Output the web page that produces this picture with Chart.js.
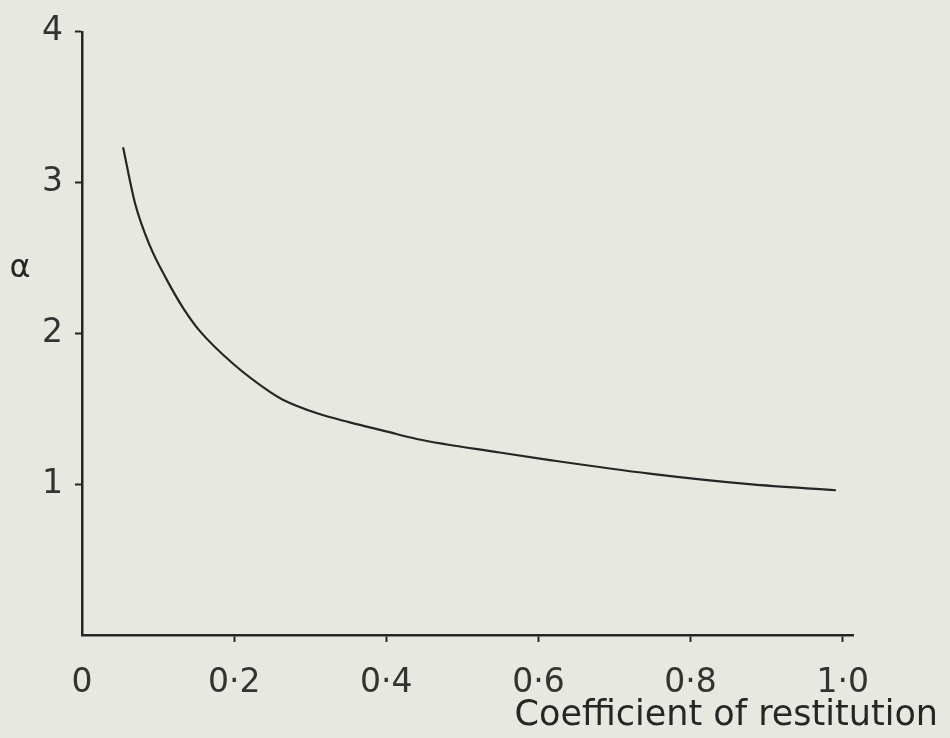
<!DOCTYPE html>
<html>
<head>
<meta charset="utf-8">
<script src="https://cdn.jsdelivr.net/npm/chart.js@4/dist/chart.umd.min.js"></script>
<style>
    body { margin: 0; background: #e7e9e0; }
    #grafica { display: block; }
</style>
</head>
<body>
<canvas id="grafica" width="950" height="738"></canvas>
<script>
// values
const restitution = [0.054, 0.0696, 0.0893, 0.111, 0.133, 0.155, 0.199, 0.247, 0.264, 0.309, 0.352, 0.40, 0.44, 0.549, 0.615, 0.746, 0.877, 0.991];
const alpha = [3.235, 2.865, 2.58, 2.36, 2.168, 2.015, 1.797, 1.612, 1.56, 1.47, 1.41, 1.35, 1.30, 1.21, 1.16, 1.07, 1.0, 0.96];

const xTicks = [0, 0.2, 0.4, 0.6, 0.8, 1.0];
const yTicks = [1, 2, 3, 4];

const xTitle = 'Coefficient of restitution';
const yTitle = 'α';

let puntos = [];
for (let i = 0; i < restitution.length; i++) {
    puntos.push({ x: restitution[i], y: alpha[i] });
}

const ink = '#262626';
const tickFont = { family: 'DejaVu Sans', size: 33 };

// paper background + axis titles
const fondo = {
    id: 'fondo',
    beforeDraw(chart) {
        const ctx = chart.ctx;
        ctx.save();
        ctx.fillStyle = '#e7e9e0';
        ctx.fillRect(0, 0, chart.width, chart.height);
        ctx.restore();
    },
    afterDraw(chart) {
        const ctx = chart.ctx;
        const y = chart.scales.y;
        ctx.save();
        ctx.fillStyle = ink;
        ctx.textBaseline = 'middle';
        ctx.font = '32px "DejaVu Sans"';
        ctx.textAlign = 'center';
        ctx.fillText(yTitle, 20, y.getPixelForValue(2.43));
        ctx.font = '35px "DejaVu Sans"';
        ctx.textAlign = 'right';
        ctx.fillText(xTitle, 938, 716);
        ctx.restore();
    }
};

const ctx = document.getElementById('grafica').getContext('2d');
const myChart = new Chart(ctx, {
    type: 'scatter',
    data: {
        datasets: [{
            label: 'alpha',
            data: puntos,
            showLine: true,
            borderColor: ink,
            borderWidth: 2.2,
            pointRadius: 0,
            cubicInterpolationMode: 'monotone',
            fill: false
        }]
    },
    options: {
        responsive: false,
        animation: false,
        layout: { padding: { left: 0, top: 23, right: 97, bottom: 0 } },
        plugins: {
            legend: { display: false },
            tooltip: { enabled: false }
        },
        scales: {
            x: {
                type: 'linear',
                min: 0,
                max: 1.0135,
                afterFit: function(scale) { scale.height = 103; },
                afterBuildTicks: function(scale) {
                    scale.ticks = xTicks.map(v => ({ value: v }));
                },
                border: { display: true, color: ink, width: 2.5 },
                grid: {
                    drawOnChartArea: false,
                    drawTicks: true,
                    tickLength: 7,
                    tickWidth: 2,
                    color: function(c) { return c.tick && c.tick.value === 0 ? 'rgba(0,0,0,0)' : ink; }
                },
                ticks: {
                    color: '#333',
                    font: tickFont,
                    padding: 22,
                    maxRotation: 0,
                    callback: function(v) { return v === 0 ? '0' : v.toFixed(1).replace('.', '·'); }
                }
            },
            y: {
                type: 'linear',
                min: 0,
                max: 4,
                afterFit: function(scale) { scale.width = 82; },
                afterBuildTicks: function(scale) {
                    scale.ticks = yTicks.map(v => ({ value: v }));
                },
                border: { display: true, color: ink, width: 2.5 },
                grid: {
                    drawOnChartArea: false,
                    drawTicks: true,
                    tickLength: 7,
                    tickWidth: 2,
                    color: ink
                },
                ticks: {
                    color: '#333',
                    font: tickFont,
                    padding: 12,
                    callback: function(v) { return String(v); }
                }
            }
        }
    },
    plugins: [fondo]
});
</script>
</body>
</html>
